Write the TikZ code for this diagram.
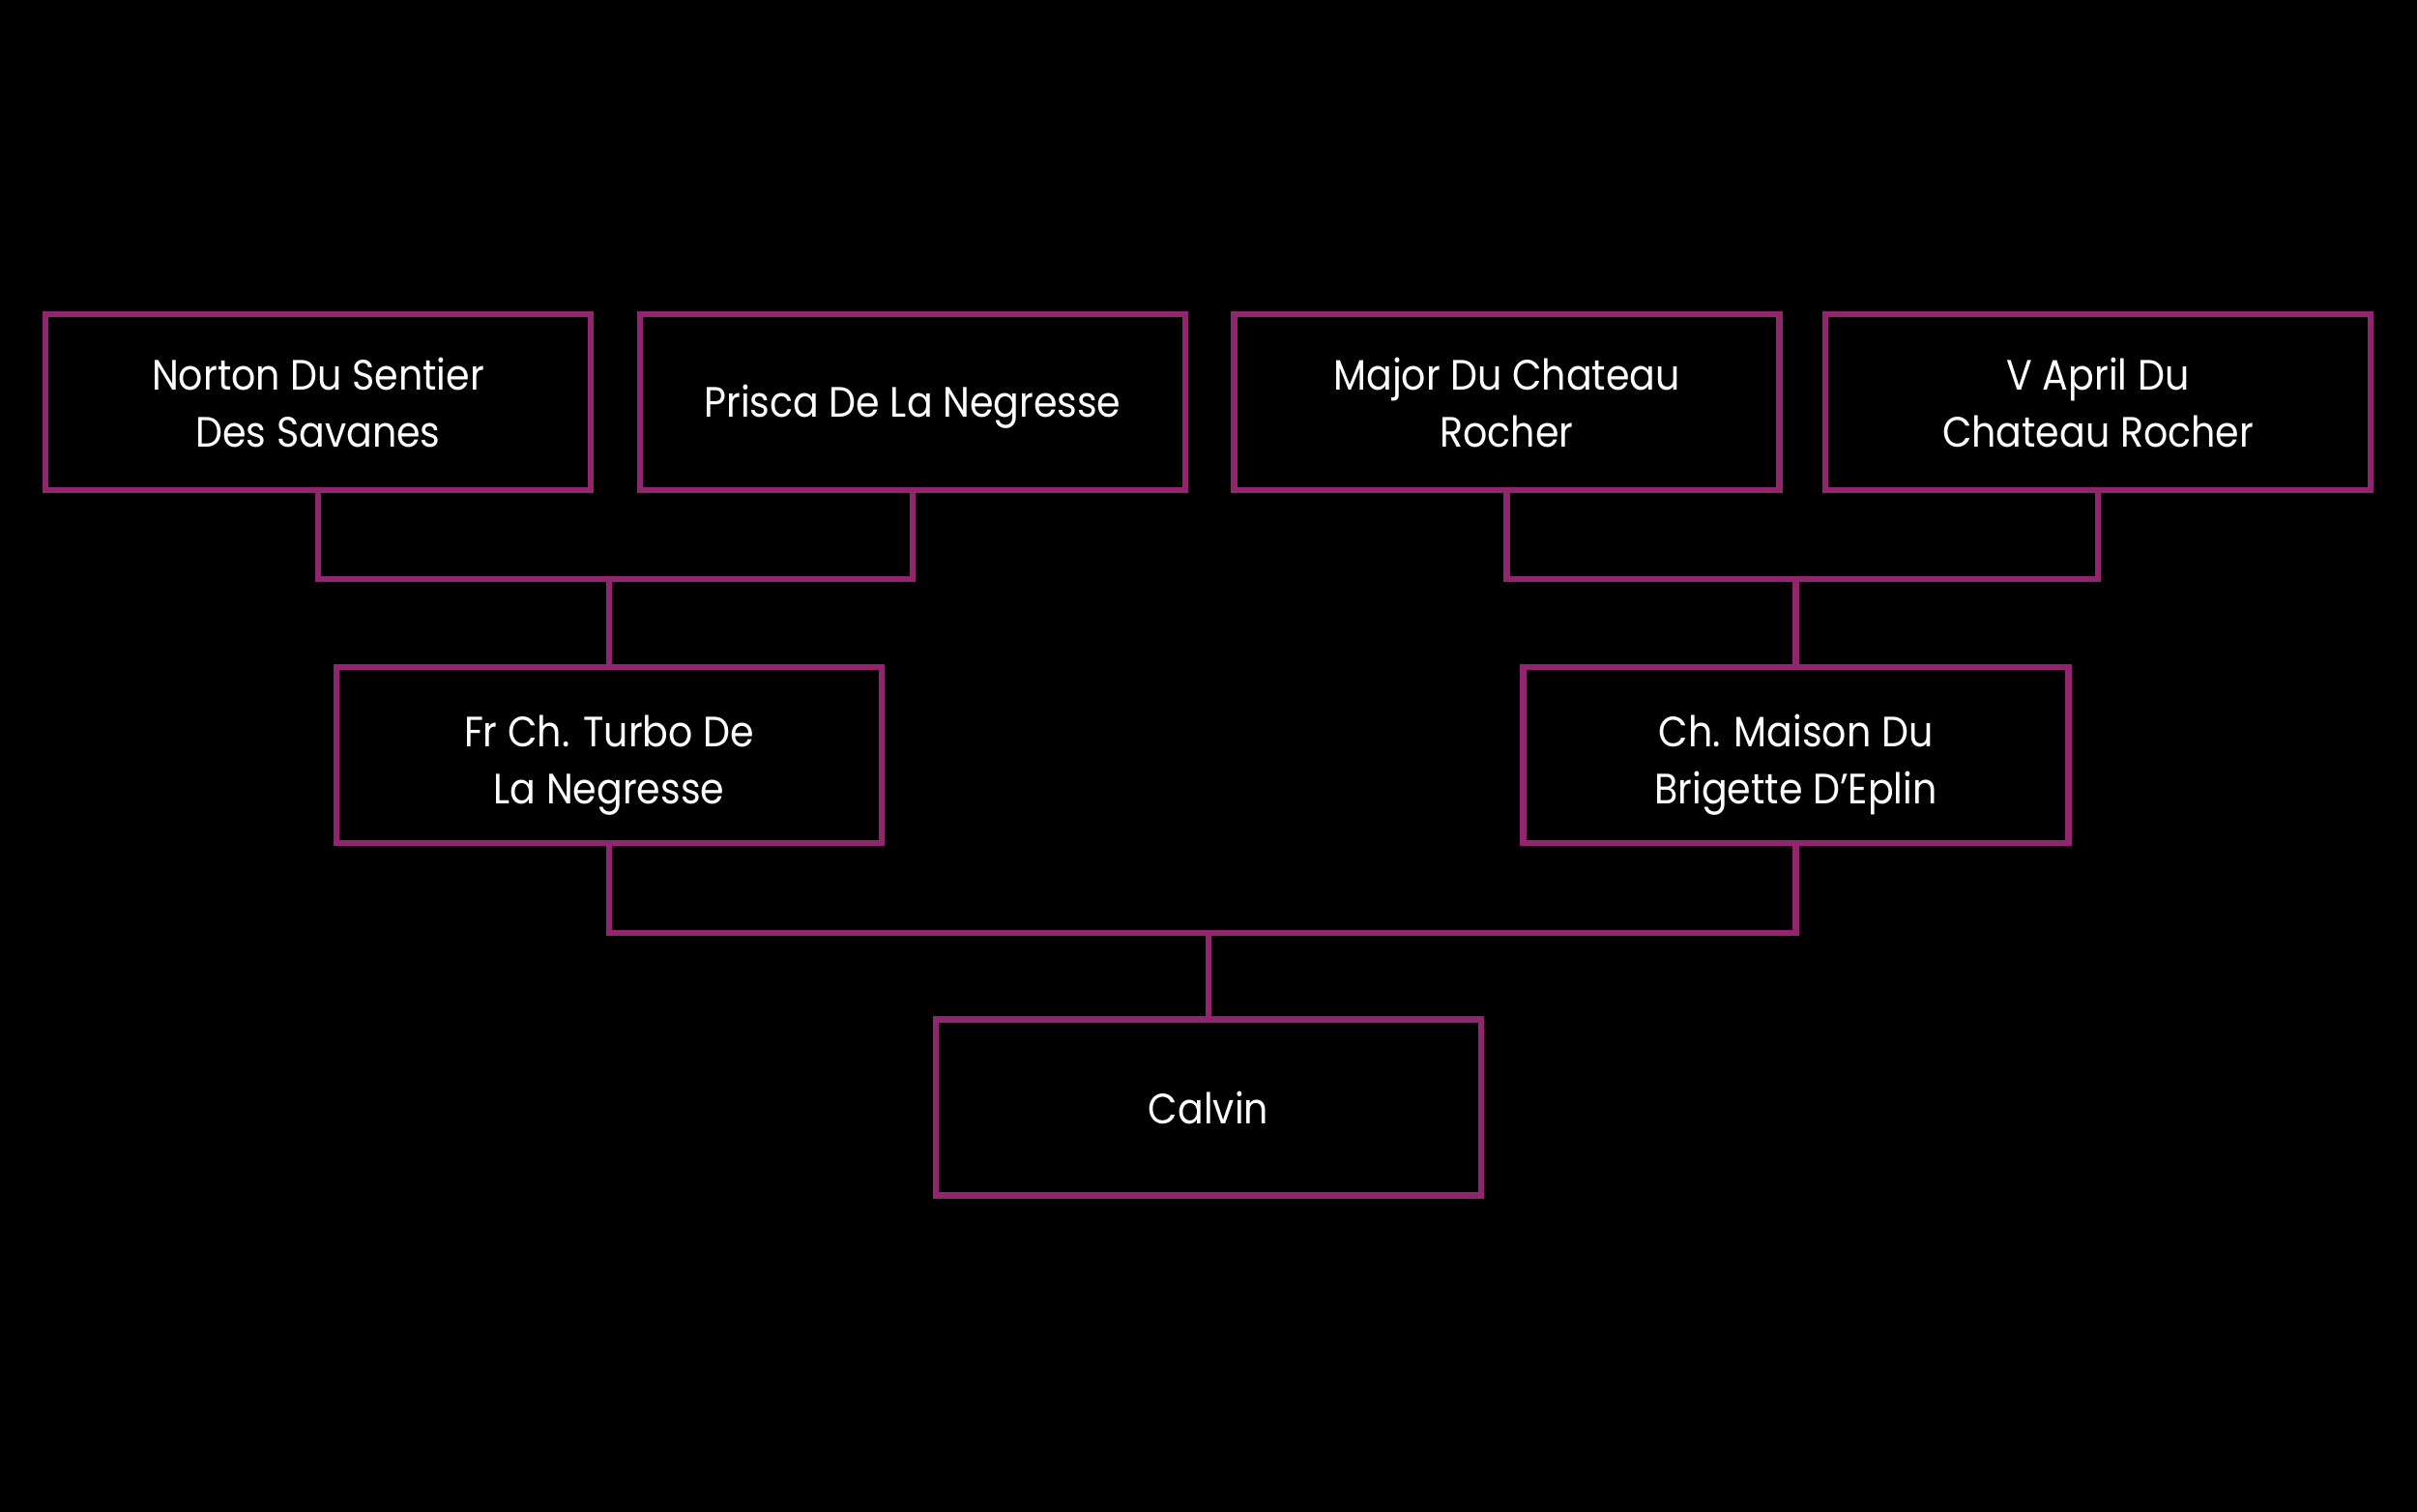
\documentclass[tikz,border=0pt]{standalone}
\usepackage{fontspec}
\setmainfont{Poppins}[FakeStretch=0.9]
\definecolor{plum}{HTML}{92266E}
\newcommand\lowered[2]{\raisebox{-#1}[\height][\depth]{\begin{tabular}{@{}c@{}}#2\end{tabular}}}
\tikzset{
  dog/.style={draw=plum, line width=0.065cm, minimum width=5.64cm, minimum height=1.82cm,
    text=white, align=center, font=\fontsize{12.5}{16.8}\selectfont, inner sep=0pt},
  link/.style={draw=plum, line width=0.065cm}
}
\begin{document}
\begin{tikzpicture}
\useasboundingbox (0,0) rectangle (25,-15.63);
\fill[black] (-0.2,0.2) rectangle (25.2,-15.83);
\node[dog] (norton) at (3.29,-4.16) {Norton Du Sentier\\Des Savanes};
\node[dog] (prisca) at (9.44,-4.16) {\lowered{0.04cm}{Prisca De La Negresse}};
\node[dog] (major) at (15.585,-4.16) {Major Du Chateau\\Rocher};
\node[dog] (april) at (21.70,-4.16) {V April Du\\Chateau Rocher};
\node[dog] (turbo) at (6.30,-7.81) {\lowered{0.09cm}{Fr Ch. Turbo De\\La Negresse}};
\node[dog] (maison) at (18.575,-7.81) {\lowered{0.09cm}{Ch. Maison Du\\Brigette D’Eplin}};
\node[dog] (calvin) at (12.50,-11.455) {Calvin};
\coordinate (j1) at (6.30,-5.99);
\coordinate (j2) at (18.575,-5.99);
\coordinate (j3) at (12.50,-9.65);
\draw[link] (norton.south) |- (j1) -| (prisca.south);
\draw[link] (j1) -- (turbo.north);
\draw[link] (major.south) |- (j2) -| (april.south);
\draw[link] (j2) -- (maison.north);
\draw[link] (turbo.south) |- (j3) -| (maison.south);
\draw[link] (j3) -- (calvin.north);
\end{tikzpicture}
\end{document}
